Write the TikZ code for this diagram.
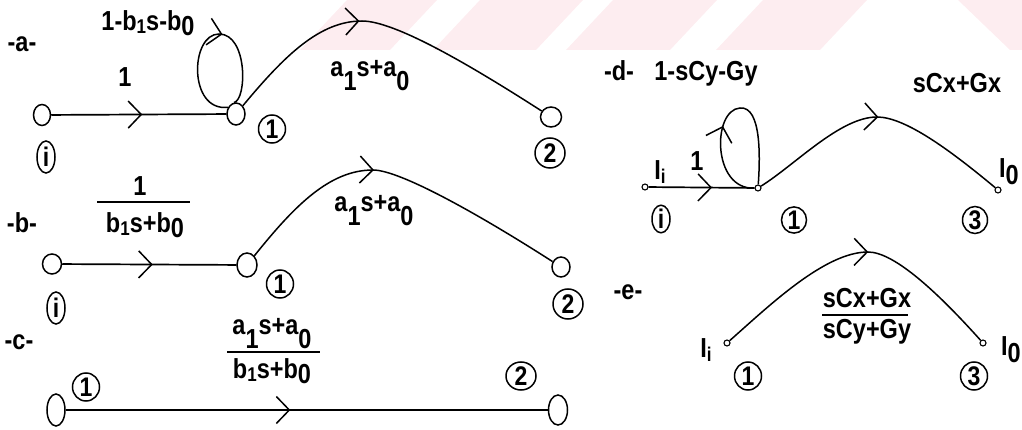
\documentclass[tikz,border=0pt]{standalone}
\usepackage{fontspec}
\setmainfont{Liberation Sans}
\usetikzlibrary{shapes.geometric,arrows.meta,decorations.markings}
\definecolor{wm}{HTML}{FDEDF0}
\newcommand\dn[2]{\raisebox{-#1}{#2}}
\newcommand\sm[1]{{\fontsize{17}{17}\selectfont #1}}
\newcommand\T[1]{\scalebox{1}[1.17]{#1}}
\begin{document}
\begin{tikzpicture}[x=1pt,y=-1pt,
  lbl/.style={font=\bfseries\fontsize{23.5}{26}\selectfont, inner sep=0pt},
  bignode/.style={draw, ellipse, line width=1.5pt, inner sep=0pt, minimum width=17pt, minimum height=21pt},
  tallnode/.style={bignode, minimum width=18pt, minimum height=32pt},
  dot/.style={draw, circle, line width=1.1pt, inner sep=0pt, minimum size=6pt},
  circ/.style={draw, ellipse, line width=1.5pt, inner sep=0pt, minimum width=27pt, minimum height=28pt, font=\bfseries\fontsize{23}{23}\selectfont},
  circi/.style={circ, minimum width=18pt, minimum height=32pt},
  edge/.style={line width=1.7pt},
  curve/.style={line width=1.5pt},
  bar/.style={line width=1.7pt},
  arr/.style={postaction={decorate}, decoration={markings, mark=at position #1 with {\arrow[line width=1.5pt]{Straight Barb[length=13pt,width=27pt]}}}},
]
\useasboundingbox (0,0) rectangle (1022,430);
% watermark
\fill[wm] (347,0) -- (437,0) -- (390,50) -- (300,50) -- cycle;
\fill[wm] (480,0) -- (583,0) -- (536,50) -- (433,50) -- cycle;
\fill[wm] (613,0) -- (717,0) -- (670,50) -- (566,50) -- cycle;
\fill[wm] (763,0) -- (867,0) -- (820,50) -- (716,50) -- cycle;
\fill[wm] (958,0) -- (1022,0) -- (1022,50) -- (1010,50) -- cycle;

% ---------- panel a ----------
\node[lbl] (la) at (22,44) {\T{-a-}};
\node[bignode] (ai) at (42,115) {};
\node[bignode, minimum width=18pt, minimum height=22pt] (a1) at (236,114) {};
\node[bignode, minimum width=21pt, minimum height=20pt] (a2) at (551,117) {};
\draw[edge, arr=0.52] (ai) -- (a1);
\node[lbl] (la1) at (125,77) {\T{1}};
\node[lbl] (laloop) at (148,23) {\T{1-b\dn{3pt}{\sm1}s-b\dn{4pt}{0}}};
\coordinate (at) at (219,34);
\draw[curve, arr=0.57] (a1.140) .. controls (188,112) and (190,34) .. (at) .. controls (248,34) and (247,100) .. (a1.100);
\coordinate (pa) at (362,21);
\draw[curve, arr=0.42] (a1) .. controls (285,55) and (320,21) .. (pa) .. controls (395,21) and (470,65) .. (a2);
\node[lbl] (la12) at (370,76) {\T{a\dn{12pt}{1}s+a\dn{12pt}{0}}};
\node[circi] (cai) at (46,157) {\T{i}};
\node[circ] (ca1) at (272,129) {\T{1}};
\node[circ, minimum width=30pt, minimum height=30pt] (ca2) at (550,153) {\T{2}};

% ---------- panel b ----------
\node[lbl] (lb) at (22,223) {\T{-b-}};
\node[bignode, minimum width=19pt, minimum height=20pt] (bi) at (52,264) {};
\node[bignode, minimum width=20pt, minimum height=24pt] (b1) at (247,265) {};
\node[bignode, minimum width=18pt, minimum height=20pt] (b2) at (561,267) {};
\draw[edge, arr=0.52] (bi) -- (b1);
\node[lbl] (lbn) at (140,186) {\T{1}};
\coordinate (bb1) at (97,202); \coordinate (bb2) at (190,202);
\draw[bar] (bb1) -- (bb2);
\node[lbl] (lbd) at (145,225) {\T{b\dn{3pt}{\sm1}s+b\dn{4pt}{0}}};
\coordinate (pb) at (373,170);
\draw[curve, arr=0.43] (b1) .. controls (295,205) and (330,170) .. (pb) .. controls (400,170) and (480,215) .. (b2);
\node[lbl] (lb12) at (374,211) {\T{a\dn{12pt}{1}s+a\dn{12pt}{0}}};
\node[circi] (cbi) at (56,308) {\T{i}};
\node[circ] (cb1) at (280,284) {\T{1}};
\node[circ, minimum width=30pt, minimum height=30pt] (cb2) at (568,304) {\T{2}};

% ---------- panel c ----------
\node[lbl] (lc) at (19,342) {\T{-c-}};
\node[tallnode] (c1) at (56,410) {};
\node[tallnode, minimum width=19pt, minimum height=30pt] (c2) at (558,410) {};
\draw[edge, arr=0.466] (c1) -- (c2);
\node[lbl] (lcn) at (272,334) {\T{a\dn{12pt}{1}s+a\dn{12pt}{0}}};
\coordinate (cb1a) at (227,352); \coordinate (cb2a) at (320,352);
\draw[bar] (cb1a) -- (cb2a);
\node[lbl] (lcd) at (272,371) {\T{b\dn{3pt}{\sm1}s+b\dn{4pt}{0}}};
\node[circ] (cc1) at (86,387) {\T{1}};
\node[circ, minimum width=30pt] (cc2) at (521,376) {\T{2}};

% ---------- panel d ----------
\node[lbl] (ld) at (619,71) {\T{-d-}};
\node[lbl] (ldloop) at (706,74) {\T{1-sCy-Gy}};
\node[lbl] (ld13) at (957,83) {\T{sCx+Gx}};
\node[dot] (di) at (645,187) {};
\node[dot] (d1) at (758,188) {};
\node[dot] (d3) at (998,190) {};
\node[lbl] (ldi) at (660,172) {\T{I\dn{3pt}{\sm i}}};
\node[lbl] (ldo) at (1009,172) {\T{I\dn{6pt}{0}}};
\node[lbl] (ld1) at (697,161) {\T{1}};
\draw[edge, arr=0.6] (di) -- (d1);
\coordinate (dt) at (740,108);
\draw[curve, arr=0.42] (d1) .. controls (712,190) and (712,110) .. (dt) .. controls (762,106) and (760,160) .. (d1);
\coordinate (pd) at (877,117);
\draw[curve, arr=0.5] (d1) .. controls (795,165) and (840,117) .. (pd) .. controls (905,117) and (950,150) .. (d3);
\node[circi, minimum height=26pt] (cdi) at (661,219) {\T{i}};
\node[circ, minimum width=25pt, minimum height=26pt] (cd1) at (794,220) {\T{1}};
\node[circ, minimum width=25pt, minimum height=26pt] (cd3) at (975,220) {\T{3}};

% ---------- panel e ----------
\node[lbl] (le) at (628,292) {\T{-e-}};
\node[dot] (e1) at (727,343) {};
\node[dot] (e3) at (983,343) {};
\node[lbl] (lei) at (706,350) {\T{I\dn{3pt}{\sm i}}};
\node[lbl] (leo) at (1011,350) {\T{I\dn{6pt}{0}}};
\coordinate (pe) at (868,252);
\draw[curve, arr=0.535] (e1) .. controls (770,305) and (825,252) .. (pe) .. controls (895,252) and (940,295) .. (e3);
\node[lbl] (len) at (867,298) {\T{sCx+Gx}};
\coordinate (eb1) at (822,315); \coordinate (eb2) at (908,315);
\draw[bar] (eb1) -- (eb2);
\node[lbl] (led) at (867,332) {\T{sCy+Gy}};
\node[circ] (ce1) at (748,376) {\T{1}};
\node[circ] (ce3) at (974,376) {\T{3}};
\end{tikzpicture}
\end{document}
